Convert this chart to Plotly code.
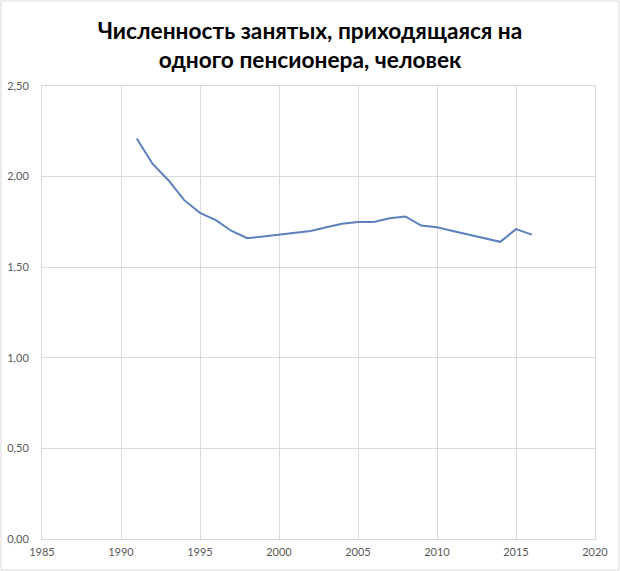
import plotly.graph_objects as go

# ---------- DATA ----------
years = list(range(1991, 2017))
workers_per_pensioner = [
    2.21, 2.07, 1.98, 1.87, 1.80, 1.76, 1.70, 1.66, 1.67, 1.68,
    1.69, 1.70, 1.72, 1.74, 1.75, 1.75, 1.77, 1.78, 1.73, 1.72,
    1.70, 1.68, 1.66, 1.64, 1.71, 1.68,
]
title_lines = ["Численность занятых, приходящаяся на",
               "одного пенсионера, человек"]

# ---------- PLOT ----------
fig = go.Figure()
fig.add_trace(go.Scatter(
    x=years,
    y=workers_per_pensioner,
    mode="lines",
    line=dict(color="#5B80BC", width=2),
    hoverinfo="x+y",
))

axis_common = dict(
    showgrid=True,
    gridcolor="#D9D9D9",
    gridwidth=1,
    zeroline=False,
    showline=True,
    linecolor="#D9D9D9",
    linewidth=1,
    mirror=True,
    ticks="",
    automargin=False,
    tickfont=dict(family="Lato, Open Sans, sans-serif", size=11, color="#595959"),
)

fig.update_layout(
    width=620,
    height=571,
    paper_bgcolor="white",
    plot_bgcolor="white",
    separators=", ",
    showlegend=False,
    margin=dict(l=42, r=25, t=86, b=32),
    title=dict(
        text="<br>".join(title_lines),
        x=0.5,
        xanchor="center",
        y=0.932,
        yanchor="top",
        font=dict(family="Lato, Open Sans, sans-serif", size=22.7, color="#000000", weight="bold"),
    ),
    xaxis=dict(range=[1985, 2020], dtick=5, tick0=1985, tickformat="d",
               ticklabelstandoff=3, **axis_common),
    yaxis=dict(range=[0, 2.5], dtick=0.5, tickformat=".2f", ticklabelstandoff=10, **axis_common),
)

# рамка вокруг диаграммы
fig.add_shape(
    type="rect", xref="paper", yref="paper",
    x0=-41 / 553, x1=1 + 24 / 553, y0=-31 / 453, y1=1 + 85 / 453,
    line=dict(color="#D9D9D9", width=1),
)

fig.write_html("out.html", config={"displayModeBar": False},
               post_script="document.body.style.margin='0';")
